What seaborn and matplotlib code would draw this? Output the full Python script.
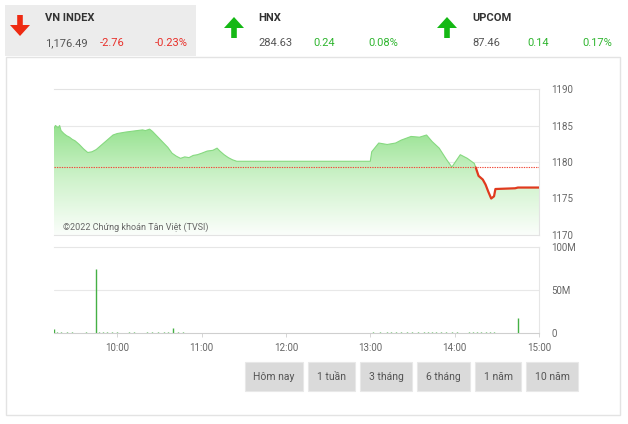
import numpy as np
import pandas as pd
import matplotlib
matplotlib.use("Agg")
import matplotlib.pyplot as plt
from matplotlib.patches import Rectangle, Polygon
from matplotlib.colors import LinearSegmentedColormap
import seaborn as sns

# ---------------- data ----------------
header_names = ["VN INDEX", "HNX", "UPCOM"]
header_values = ["1,176.49", "284.63", "87.46"]
header_changes = ["-2.76", "0.24", "0.14"]
header_pcts = ["-0.23%", "0.08%", "0.17%"]
header_up = [False, True, True]

reference_price = 1179.25

price_times = ["09:15", "09:16", "09:18", "09:19", "09:20", "09:22", "09:24", "09:26", "09:28",
               "09:30", "09:33", "09:36", "09:39", "09:42", "09:45", "09:48", "09:51", "09:54",
               "09:57", "10:00", "10:03", "10:06", "10:10", "10:14", "10:18", "10:20", "10:23",
               "10:25", "10:27", "10:30", "10:33", "10:36", "10:39", "10:42", "10:45", "10:48",
               "10:51", "10:54", "10:57", "11:00", "11:04", "11:08", "11:11", "11:13", "11:16",
               "11:19", "11:22", "11:25", "11:30", "13:00", "13:01", "13:06", "13:12", "13:18",
               "13:22", "13:29", "13:35", "13:40", "13:44", "13:49", "13:54", "13:58", "14:04",
               "14:09", "14:14", "14:15", "14:17", "14:20", "14:22", "14:24", "14:26", "14:28",
               "14:29", "14:43", "14:45", "15:00"]
price_values = [1184.6, 1185.0, 1184.7, 1185.0, 1184.3, 1183.9, 1183.6, 1183.4, 1183.1,
                1182.9, 1182.4, 1181.8, 1181.3, 1181.4, 1181.7, 1182.2, 1182.7, 1183.2,
                1183.7, 1183.9, 1184.0, 1184.1, 1184.2, 1184.3, 1184.4, 1184.3, 1184.5,
                1184.2, 1183.8, 1183.2, 1182.6, 1182.0, 1181.2, 1180.8, 1180.5, 1180.7,
                1180.6, 1180.9, 1181.0, 1181.2, 1181.5, 1181.6, 1181.9, 1181.5, 1181.0,
                1180.6, 1180.3, 1180.1, 1180.1, 1180.1, 1181.4, 1182.6, 1182.4, 1182.6,
                1183.0, 1183.5, 1183.4, 1183.7, 1182.8, 1181.9, 1180.4, 1179.3, 1181.0,
                1180.5, 1179.8, 1179.25, 1178.1, 1177.6, 1176.9, 1175.9, 1175.0, 1175.3,
                1176.3, 1176.4, 1176.5, 1176.5]

volume_times = ["09:15", "09:17", "09:20", "09:24", "09:28", "09:33", "09:38", "09:45", "09:47",
                "09:50", "09:53", "09:56", "10:00", "10:04", "10:08", "10:12", "10:17", "10:21",
                "10:25", "10:29", "10:33", "10:36", "10:40", "10:43", "10:47", "10:52", "10:57",
                "11:05", "11:15", "11:20", "13:02", "13:07", "13:12", "13:15", "13:18", "13:22",
                "13:26", "13:30", "13:34", "13:38", "13:41", "13:44", "13:47", "13:50", "13:54",
                "13:58", "14:02", "14:06", "14:10", "14:13", "14:16", "14:19", "14:22", "14:25",
                "14:28", "14:32", "14:38", "14:45"]
volume_values = [4.5, 1.0, 0.8, 0.6, 0.7, 0.5, 0.6, 74.0, 1.2,
                 0.8, 0.7, 0.6, 0.9, 0.5, 0.6, 0.7, 0.5, 0.6,
                 0.8, 0.6, 0.7, 0.9, 6.0, 1.0, 0.6, 0.5, 0.5,
                 0.4, 0.4, 0.3, 0.8, 0.6, 1.0, 0.7, 1.2, 0.9,
                 0.7, 0.8, 0.6, 1.1, 1.3, 1.0, 0.8, 1.2, 0.9,
                 0.7, 0.6, 0.5, 0.8, 1.0, 1.2, 1.0, 1.3, 1.1,
                 0.9, 0.4, 0.5, 18.0]

hour_ticks = ["10:00", "11:00", "12:00", "13:00", "14:00", "15:00"]
price_ticks = [1170, 1175, 1180, 1185, 1190]
volume_ticks = [0, 50, 100]
volume_tick_labels = ["0", "50M", "100M"]
buttons = ["Hôm nay", "1 tuần", "3 tháng", "6 tháng", "1 năm", "10 năm"]
watermark = "©2022 Chứng khoán Tân Việt (TVSI)"


def to_min(s):
    h, m = s.split(":")
    return (int(h) - 9) * 60 + int(m)


# ---------------- style ----------------
sns.set_theme(style="white")
plt.rcParams["font.family"] = ["Roboto", "DejaVu Sans"]

W, H = 628, 424
fig = plt.figure(figsize=(W / 100, H / 100), dpi=100)
fig.patch.set_facecolor("white")


def fx(x):
    return x / W


def fy(y):
    return 1 - y / H


def rect_ax(x0, y0, x1, y1):
    return [fx(x0), fy(y1), fx(x1) - fx(x0), fy(y0) - fy(y1)]


# panel border and header box
fig.patches.append(Rectangle((fx(6), fy(415)), fx(620) - fx(6), fy(57) - fy(415),
                             transform=fig.transFigure, fill=False, edgecolor="#e3e3e3",
                             linewidth=1.0, zorder=0))
fig.patches.append(Rectangle((fx(5), fy(56)), fx(196) - fx(5), fy(5) - fy(56),
                             transform=fig.transFigure, facecolor="#ececec", edgecolor="none",
                             zorder=0))

# header texts and arrows
red = "#e8302a"
green = "#2fb52f"
arrow_green = "#14b814"
header_x = [45, 258, 472]
arrow_x = [20, 234, 447]
for i in range(3):
    x = header_x[i]
    fig.text(fx(x), fy(18), header_names[i], fontsize=8, fontweight="bold", color="#333333",
             va="center", ha="left")
    fig.text(fx(x), fy(43), header_values[i], fontsize=8, color="#555555", va="center", ha="left")
    col = green if header_up[i] else red
    fig.text(fx(x + 55), fy(43), header_changes[i], fontsize=8, color=col, va="center", ha="left")
    fig.text(fx(x + 110), fy(43), header_pcts[i], fontsize=8, color=col, va="center", ha="left")
    cx = arrow_x[i]
    if header_up[i]:
        pts = [(cx - 2.8, 38), (cx + 2.8, 38), (cx + 2.8, 28), (cx + 10, 28), (cx, 17),
               (cx - 10, 28), (cx - 2.8, 28)]
        c = arrow_green
    else:
        pts = [(cx - 2.8, 15), (cx + 2.8, 15), (cx + 2.8, 25), (cx + 10, 25), (cx, 36),
               (cx - 10, 25), (cx - 2.8, 25)]
        c = "#ee2a12"
    fig.patches.append(Polygon([(fx(a), fy(b)) for a, b in pts], closed=True,
                               transform=fig.transFigure, facecolor=c, edgecolor="none"))

# ---------------- price chart ----------------
t = np.array([to_min(s) for s in price_times], dtype=float)
p = np.array(price_values)
df = pd.DataFrame({"t": t, "p": p})
split = price_times.index("14:15")
df_green = df.iloc[: split + 1]
df_red = df.iloc[split:]

ax = fig.add_axes(rect_ax(54, 89, 539, 235))
xmin, xmax = 15, 360
ymin, ymax = 1170, 1190
ax.set_xlim(xmin, xmax)
ax.set_ylim(ymin, ymax)

for v in [1175, 1180, 1185]:
    ax.axhline(v, color="#e8e8e8", linewidth=0.8, zorder=1)

# gradient fill under curve
poly = ax.fill_between(df["t"], df["p"], ymin, color="none", linewidth=0)
cmap = LinearSegmentedColormap.from_list("g", ["#fbfefb", "#cdf2c9", "#8ddf86"])
grad = np.linspace(0, 1, 256).reshape(-1, 1)
im = ax.imshow(grad, extent=[xmin, xmax, ymin, 1186], origin="lower", aspect="auto",
               cmap=cmap, zorder=2)
path = poly.get_paths()[0]
im.set_clip_path(path, transform=ax.transData)
ax.set_xlim(xmin, xmax)
ax.set_ylim(ymin, ymax)

sns.lineplot(data=df_green, x="t", y="p", ax=ax, color="#86d980", linewidth=0.8, zorder=3,
             estimator=None, sort=False)
sns.lineplot(data=df_red, x="t", y="p", ax=ax, color="#e03a1e", linewidth=1.6, zorder=4,
             estimator=None, sort=False)
ax.axhline(reference_price, color="#f04a3a", linewidth=0.8, linestyle=(0, (1.2, 1.0)), zorder=5)

ax.set_xlabel("")
ax.set_ylabel("")
ax.set_xticks([])
ax.yaxis.tick_right()
ax.set_yticks(price_ticks)
ax.set_yticklabels([str(v) for v in price_ticks])
ax.tick_params(axis="y", length=0, pad=9, labelsize=7, labelcolor="#666666")
for s in ["top", "bottom", "right"]:
    ax.spines[s].set_color("#e3e3e3")
    ax.spines[s].set_linewidth(0.8)
ax.spines["left"].set_visible(False)
ax.text(9 / 485, 0.055, watermark, fontsize=6.5, color="#666666", ha="left", va="center",
        transform=ax.transAxes, zorder=6)

# ---------------- volume chart ----------------
vt = np.array([to_min(s) for s in volume_times], dtype=float)
vv = np.array(volume_values)
ax2 = fig.add_axes(rect_ax(54, 247, 539, 333))
ax2.set_xlim(xmin, xmax)
ax2.set_ylim(0, 100)
ax2.axhline(50, color="#e8e8e8", linewidth=0.8, zorder=1)
ax2.vlines(vt, 0, vv, color="#45b045", linewidth=1.0, zorder=3)
ax2.yaxis.tick_right()
ax2.set_yticks(volume_ticks)
ax2.set_yticklabels(volume_tick_labels)
ax2.tick_params(axis="y", length=0, pad=9, labelsize=7, labelcolor="#666666")
hour_pos = [to_min(s) for s in hour_ticks]
ax2.set_xticks(hour_pos)
ax2.set_xticklabels(hour_ticks)
ax2.tick_params(axis="x", length=3, width=0.6, color="#cfcfcf", pad=4, labelsize=7,
                labelcolor="#666666", bottom=True)
for s in ["top", "right"]:
    ax2.spines[s].set_color("#e6e6e6")
    ax2.spines[s].set_linewidth(0.8)
ax2.spines["bottom"].set_color("#cfcfcf")
ax2.spines["bottom"].set_linewidth(0.8)
ax2.spines["left"].set_visible(False)

# ---------------- buttons ----------------
btn_x = [(245, 303), (308, 355), (360, 412), (417, 470), (475, 521), (526, 578)]
for (x0, x1), label in zip(btn_x, buttons):
    fig.patches.append(Rectangle((fx(x0), fy(391)), fx(x1) - fx(x0), fy(362) - fy(391),
                                 transform=fig.transFigure, facecolor="#dadada",
                                 edgecolor="#e8e8e8", linewidth=0.8))
    fig.text(fx((x0 + x1) / 2), fy(376.5), label, fontsize=7.5, color="#555555",
             ha="center", va="center")

fig.savefig("out.png", dpi=100, facecolor="white")
